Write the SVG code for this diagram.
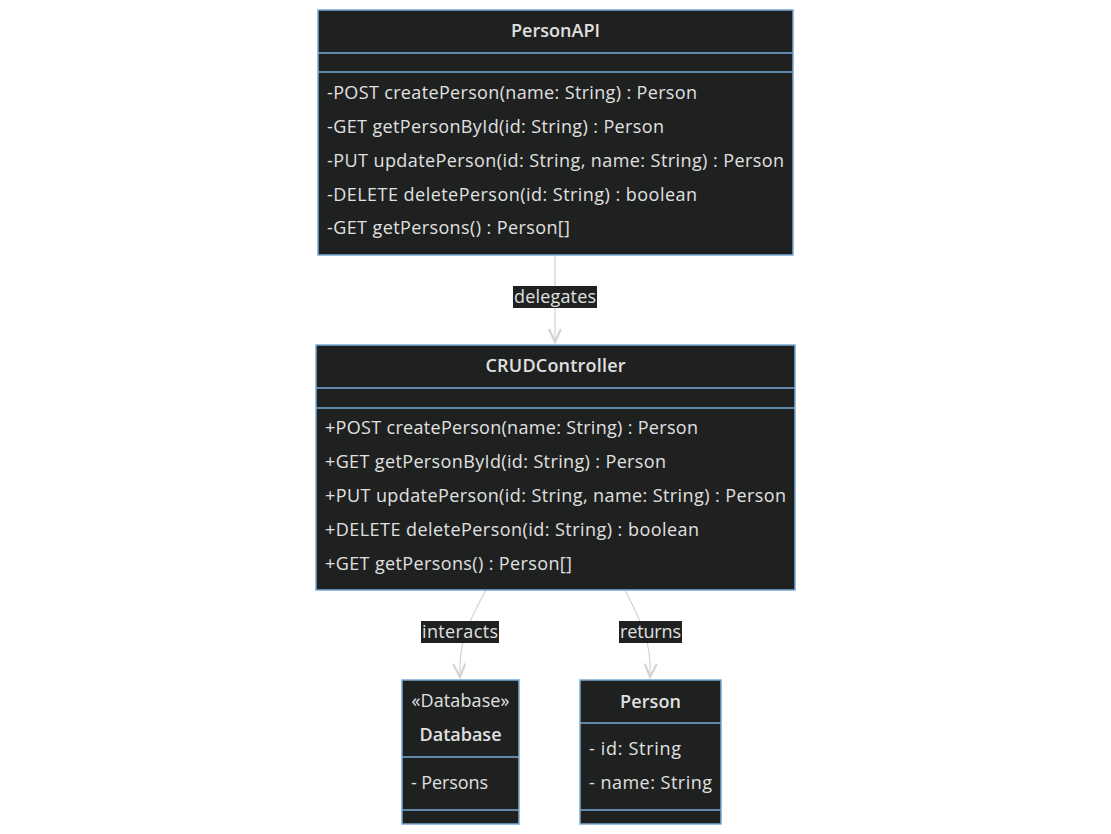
<svg xmlns="http://www.w3.org/2000/svg" width="1111" height="834" viewBox="0 0 1111 834">
<style>
.box{fill:#1f2020;stroke:#7aa9d6;stroke-width:1.5}
.div{stroke:#7aa9d6;stroke-width:1.5}
.t{font-family:"Open Sans","DejaVu Sans",sans-serif;font-size:18px;fill:#e0e0e0}
.b{font-weight:600}
.m{text-anchor:middle}
.edge{fill:none;stroke:#d3d3d3;stroke-width:1.2}
.lbl{fill:#1f2020}
</style>
<defs>
<marker id="arr" viewBox="0 0 20 14" refX="17" refY="7" markerWidth="20" markerHeight="14" markerUnits="userSpaceOnUse" orient="auto">
<path d="M3,1 L16,7 L3,13" fill="none" stroke="#d3d3d3" stroke-width="2.2"/>
</marker>
</defs>
<rect width="1111" height="834" fill="#ffffff"/>
<g id="connectors">
<path class="edge" d="M555,255 L555,343" marker-end="url(#arr)"/>
<path class="edge" d="M486,590 C470,620 458,640 460,678" marker-end="url(#arr)"/>
<path class="edge" d="M625,590 C640,620 652,640 650,678" marker-end="url(#arr)"/>
<rect class="lbl" x="513" y="286" width="84" height="22"/>
<text class="t m" x="555" y="303" textLength="82">delegates</text>
<rect class="lbl" x="421" y="621" width="78" height="22"/>
<text class="t m" x="460" y="638" textLength="76">interacts</text>
<rect class="lbl" x="619" y="621" width="63" height="22"/>
<text class="t m" x="650.5" y="638" textLength="61">returns</text>
</g>
<g id="PersonAPI">
<rect class="box" x="318" y="10" width="475" height="245"/>
<line class="div" x1="318" y1="53" x2="793" y2="53"/>
<line class="div" x1="318" y1="72" x2="793" y2="72"/>
<text class="t b m" x="555.5" y="37" textLength="89">PersonAPI</text>
<text class="t" x="327" y="99" textLength="370">-POST createPerson(name: String) : Person</text>
<text class="t" x="327" y="133" textLength="337">-GET getPersonById(id: String) : Person</text>
<text class="t" x="327" y="167" textLength="457">-PUT updatePerson(id: String, name: String) : Person</text>
<text class="t" x="327" y="201" textLength="370">-DELETE deletePerson(id: String) : boolean</text>
<text class="t" x="327" y="234" textLength="243">-GET getPersons() : Person[]</text>
</g>
<g id="CRUDController">
<rect class="box" x="316" y="345" width="479" height="245"/>
<line class="div" x1="316" y1="388" x2="795" y2="388"/>
<line class="div" x1="316" y1="408" x2="795" y2="408"/>
<text class="t b m" x="555.5" y="372" textLength="140">CRUDController</text>
<text class="t" x="325" y="434" textLength="373">+POST createPerson(name: String) : Person</text>
<text class="t" x="325" y="468" textLength="341">+GET getPersonById(id: String) : Person</text>
<text class="t" x="325" y="502" textLength="461">+PUT updatePerson(id: String, name: String) : Person</text>
<text class="t" x="325" y="536" textLength="374">+DELETE deletePerson(id: String) : boolean</text>
<text class="t" x="325" y="570" textLength="247">+GET getPersons() : Person[]</text>
</g>
<g id="Database">
<rect class="box" x="402" y="680" width="117" height="144"/>
<line class="div" x1="402" y1="757" x2="519" y2="757"/>
<line class="div" x1="402" y1="810" x2="519" y2="810"/>
<text class="t m" x="460.5" y="707" textLength="98">«Database»</text>
<text class="t b m" x="460.5" y="741" textLength="82">Database</text>
<text class="t" x="411" y="789" textLength="77">- Persons</text>
</g>
<g id="Person">
<rect class="box" x="580" y="680" width="141" height="144"/>
<line class="div" x1="580" y1="723" x2="721" y2="723"/>
<line class="div" x1="580" y1="810" x2="721" y2="810"/>
<text class="t b m" x="650.5" y="708" textLength="61">Person</text>
<text class="t" x="589" y="755" textLength="92">- id: String</text>
<text class="t" x="589" y="789" textLength="123">- name: String</text>
</g>
</svg>
